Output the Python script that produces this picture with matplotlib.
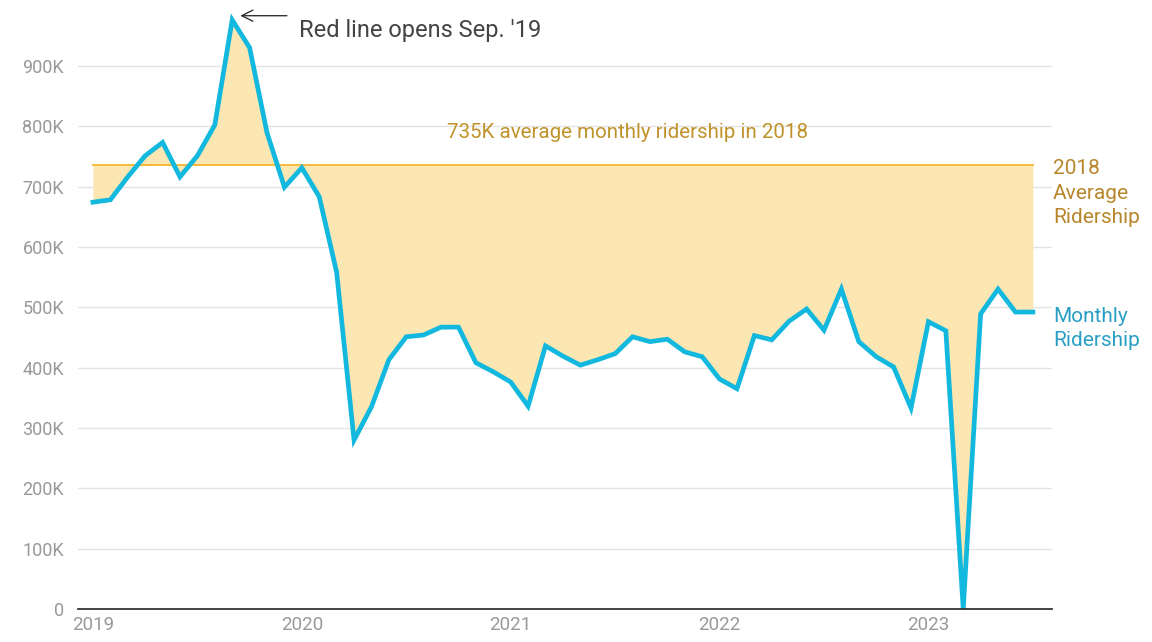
import numpy as np
import matplotlib.pyplot as plt

plt.rcParams['font.family'] = ['Roboto', 'DejaVu Sans']

# monthly ridership, Jan 2019 .. Jul 2023
ridership = [674, 678, 716, 751, 773, 716, 751, 802, 976, 930, 789, 699,
             731, 683, 558, 280, 335, 413, 451, 454, 467, 467, 408, 393,
             376, 336, 436, 419, 404, 413, 423, 451, 443, 447, 426, 418,
             381, 365, 453, 446, 477, 497, 462, 530, 443, 418, 401, 333,
             476, 461, 0, 489, 530, 492, 492]
ridership = np.array(ridership) * 1000
avg_2018 = 735000
years = ['2019', '2020', '2021', '2022', '2023']
yticks = [0, 100000, 200000, 300000, 400000, 500000, 600000, 700000, 800000, 900000]
ytick_labels = ['0', '100K', '200K', '300K', '400K', '500K', '600K', '700K', '800K', '900K']

months = np.arange(len(ridership))

fig = plt.figure(figsize=(11.52, 6.42), dpi=100)
ax = fig.add_axes([78 / 1152, 33 / 642, (1052 - 78) / 1152, 609 / 642])

ax.fill_between(months, ridership, avg_2018, color='#fce6b1', linewidth=0, zorder=1)
ax.plot(months, [avg_2018] * len(months), color='#f7b52c', linewidth=1.3, zorder=2)
ax.plot(months, ridership, color='#13b8df', linewidth=3.4, zorder=3,
        solid_joinstyle='miter', clip_on=False)

ax.set_xlim(-0.86, 55.1)
ax.set_ylim(0, 1009000)

ax.set_yticks(yticks)
ax.set_yticklabels(ytick_labels)
ax.set_xticks([0, 12, 24, 36, 48])
ax.set_xticklabels(years)
ax.tick_params(length=0, colors='#999999')
ax.tick_params(axis='y', pad=10, labelsize=13)
ax.tick_params(axis='x', pad=5, labelsize=13.5)

ax.grid(axis='y', color='#e3e3e3', linewidth=1)
ax.set_axisbelow(True)
for s in ['top', 'right', 'left']:
    ax.spines[s].set_visible(False)
ax.spines['bottom'].set_color('#333333')
ax.spines['bottom'].set_linewidth(1.3)
ax.spines['bottom'].set_zorder(4)

# annotations
ax.annotate('', xy=(8.3, 983000), xytext=(11.3, 983000),
            arrowprops=dict(arrowstyle='->', color='#333333', lw=1, mutation_scale=20),
            annotation_clip=False)
ax.text(11.85, 958000, "Red line opens Sep. '19", color='#444444', fontsize=17,
        va='center', ha='left')
ax.text(30.7, 790000, '735K average monthly ridership in 2018', color='#c0922a',
        fontsize=14.8, ha='center', va='center')
ax.text(55.15, 745000, '2018\nAverage\nRidership', color='#b8862b', fontsize=15,
        ha='left', va='top', linespacing=1.35, clip_on=False)
ax.text(55.15, 500000, 'Monthly\nRidership', color='#2a9fc4', fontsize=15,
        ha='left', va='top', linespacing=1.35, clip_on=False)

fig.savefig('out.png', dpi=100)
